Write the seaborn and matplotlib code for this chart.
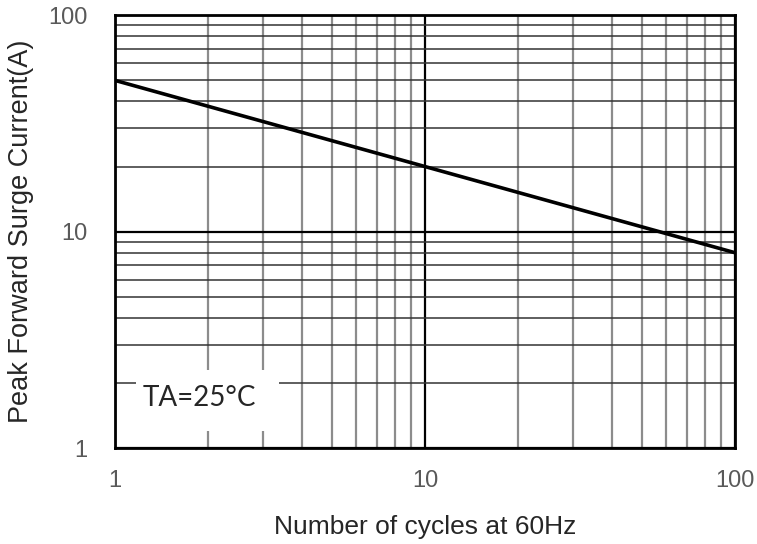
import numpy as np
import pandas as pd
import matplotlib
matplotlib.use("Agg")
import matplotlib.pyplot as plt
import matplotlib.ticker as mticker
from matplotlib.patches import Rectangle
import seaborn as sns

# curve (log-log straight line)
cycles = [1, 10, 100]
surge_current = [50, 20, 8]
x_ticks = [1, 10, 100]
y_ticks = [1, 10, 100]
x_tick_labels = ["1", "10", "100"]
y_tick_labels = ["1", "10", "100"]

df = pd.DataFrame({"cycles": cycles, "current": surge_current})

sns.set_style("white")
plt.rcParams['font.family'] = ['Liberation Sans', 'DejaVu Sans']

fig = plt.figure(figsize=(7.57, 5.44), dpi=100)
ax = fig.add_axes([0.152, 0.176, 0.819, 0.796])

ax.set_xscale("log")
ax.set_yscale("log")
ax.set_xlim(1, 100)
ax.set_ylim(1, 100)

# grid: gray minor verticals, dark minor horizontals, black majors
ax.xaxis.set_minor_locator(mticker.LogLocator(base=10, subs=np.arange(2, 10)))
ax.yaxis.set_minor_locator(mticker.LogLocator(base=10, subs=np.arange(2, 10)))
ax.grid(which="minor", axis="x", color="#8c8c8c", linewidth=1.6)
ax.grid(which="minor", axis="y", color="#333333", linewidth=1.1)
ax.grid(which="major", axis="both", color="black", linewidth=1.6)
ax.set_axisbelow(True)

sns.lineplot(data=df, x="cycles", y="current", ax=ax, color="black", linewidth=2.6)

ax.set_xticks(x_ticks)
ax.set_xticklabels(x_tick_labels)
ax.set_yticks(y_ticks)
ax.set_yticklabels(y_tick_labels)
ax.xaxis.set_minor_formatter(mticker.NullFormatter())
ax.yaxis.set_minor_formatter(mticker.NullFormatter())
ax.tick_params(which="major", direction="out", length=6, width=2, color="black",
               labelsize=17, labelcolor="#595959")
ax.tick_params(axis="x", which="major", pad=10)
ax.tick_params(axis="y", which="major", pad=14)
ax.tick_params(which="minor", length=0)

for side in ["left", "bottom", "top", "right"]:
    ax.spines[side].set_color("black")
    ax.spines[side].set_linewidth(2)

ax.set_xlabel("Number of cycles at 60Hz", fontsize=19, labelpad=16)
ax.set_ylabel("Peak Forward Surge Current(A)", fontsize=19.5, labelpad=10)

# white label box for the temperature note
ax.add_patch(Rectangle((0.034, 0.039), 0.231, 0.141, transform=ax.transAxes,
                       facecolor="white", edgecolor="none", zorder=2))
ax.text(0.045, 0.115, "TA=25°C", transform=ax.transAxes, fontsize=20,
        family=['Lato', 'DejaVu Sans'], va="center", ha="left", zorder=3)

fig.savefig("out.png", dpi=100)
